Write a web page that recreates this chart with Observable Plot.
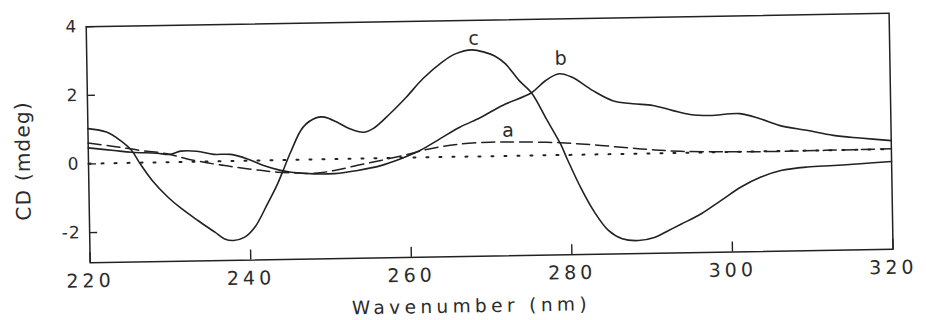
<!DOCTYPE html>
<html>
<head>
<meta charset="utf-8">
<script src="https://cdn.jsdelivr.net/npm/d3@7"></script>
<script src="https://cdn.jsdelivr.net/npm/@observablehq/plot@0.6"></script>
<style>
  html, body { margin: 0; padding: 0; background: #fff; }
  #chart svg { display: block; transform: rotate(-0.96deg); transform-origin: 50% 50%; }
  #chart g[aria-label="x-axis tick label"] text { letter-spacing: 4px; }
  #chart g[aria-label="y-axis tick label"] text { letter-spacing: 1px; }
  #chart .xtitle text { letter-spacing: 4.4px; }
  #chart .ytitle text { letter-spacing: 1.2px; }
</style>
</head>
<body>
<div id="chart"></div>
<script>
// CD spectra, wavelength (nm) vs ellipticity (mdeg)
const xTicks = [220, 240, 260, 280, 300, 320];
const yTicks = [-2, 0, 2, 4];

// curve a (dashed)
const aWavelength = [220.0, 223.2, 226.5, 229.8, 232.3, 235.6, 238.5, 241.4, 243.5, 248.1, 250.6, 253.5, 256.4, 259.7, 262.6, 265.9, 270.1, 273.8, 278.8, 283.8, 288.8, 293.7, 300.0, 306.2, 313.0, 320.0];
const aCD = [0.61, 0.50, 0.37, 0.26, 0.10, -0.06, -0.17, -0.27, -0.33, -0.38, -0.31, -0.17, -0.04, 0.12, 0.28, 0.39, 0.44, 0.43, 0.39, 0.29, 0.17, 0.08, 0.04, 0.03, 0.04, 0.05];

// curve b (solid)
const bWavelength = [220.0, 223.2, 225.4, 228.5, 230.2, 231.5, 233.5, 235.6, 237.7, 239.8, 241.8, 243.9, 245.2, 248.1, 250.6, 253.5, 256.4, 258.9, 261.3, 263.8, 266.3, 268.8, 270.1, 272.1, 275.3, 277.1, 278.8, 280.4, 282.9, 285.4, 287.9, 290.4, 292.9, 295.0, 297.5, 301.2, 303.7, 306.2, 309.5, 312.8, 316.1, 320.0];
const bCD = [0.47, 0.38, 0.32, 0.28, 0.24, 0.33, 0.32, 0.22, 0.21, 0.07, -0.13, -0.28, -0.34, -0.40, -0.40, -0.32, -0.19, 0.00, 0.23, 0.56, 0.89, 1.15, 1.31, 1.55, 1.86, 2.21, 2.40, 2.29, 1.90, 1.59, 1.49, 1.43, 1.27, 1.15, 1.11, 1.15, 0.99, 0.78, 0.63, 0.47, 0.38, 0.29];

// curve c (solid)
const cWavelength = [220.0, 222.3, 224.0, 225.4, 226.3, 227.9, 229.8, 231.5, 233.5, 235.6, 236.8, 237.9, 239.3, 240.6, 242.2, 243.5, 244.3, 245.2, 246.8, 248.5, 249.5, 251.0, 252.6, 254.3, 255.5, 257.6, 259.7, 261.8, 264.2, 265.9, 268.0, 269.6, 270.8, 272.1, 273.8, 275.3, 277.1, 278.8, 279.6, 281.3, 282.9, 284.6, 286.3, 288.3, 290.4, 292.1, 293.7, 296.2, 298.7, 301.2, 303.7, 306.2, 309.5, 312.8, 316.1, 320.0];
const cCD = [1.03, 0.92, 0.67, 0.37, 0.03, -0.51, -1.00, -1.35, -1.70, -2.05, -2.25, -2.30, -2.21, -1.92, -1.25, -0.67, -0.24, 0.25, 0.97, 1.24, 1.25, 1.10, 0.90, 0.79, 0.89, 1.31, 1.79, 2.32, 2.79, 3.03, 3.14, 3.06, 2.95, 2.72, 2.22, 1.86, 1.09, 0.36, -0.08, -0.96, -1.65, -2.19, -2.44, -2.50, -2.41, -2.22, -2.04, -1.75, -1.37, -0.99, -0.71, -0.53, -0.44, -0.41, -0.37, -0.32];

// baseline (dotted)
const baseWavelength = [220, 240, 260, 280, 300, 320];
const baseCD = [0.01, 0.02, 0.03, 0.03, 0.04, 0.04];

// curve labels
const labelNames = ["a", "b", "c"];
const labelWavelength = [272.3, 279.0, 268.2];
const labelCD = [0.77, 2.84, 3.47];

const rows = (xs, ys) => xs.map((x, i) => ({x, y: ys[i]}));
const seriesA = rows(aWavelength, aCD);
const seriesB = rows(bWavelength, bCD);
const seriesC = rows(cWavelength, cCD);
const baseline = rows(baseWavelength, baseCD);
const labels = labelNames.map((name, i) => ({name, x: labelWavelength[i], y: labelCD[i]}));

const ink = "#222";
const text = "#2b2b2b";

const chart = Plot.plot({
  width: 926,
  height: 320,
  marginLeft: 88,
  marginRight: 35,
  marginTop: 20,
  marginBottom: 64,
  x: {domain: [220, 320]},
  y: {domain: [-2.88, 4]},
  style: {fontFamily: "DejaVu Sans", color: text, background: "#fff", overflow: "visible"},
  marks: [
    Plot.frame({stroke: ink, strokeWidth: 1.5}),
    Plot.axisX({ticks: xTicks, tickSize: 0, tickPadding: 11, fontSize: 19, label: null, tickFormat: d => String(d)}),
    Plot.axisY({ticks: yTicks, tickSize: 0, tickPadding: 9, fontSize: 17, label: null, tickFormat: d => d < 0 ? "-" + Math.abs(d) : String(d)}),
    Plot.tickX(xTicks, {x: d => d, insetTop: 226, stroke: ink, strokeWidth: 1.4}),
    Plot.tickY(yTicks, {y: d => d, insetRight: 795, stroke: ink, strokeWidth: 1.4}),
    Plot.line(baseline, {x: "x", y: "y", stroke: ink, strokeWidth: 2, strokeDasharray: "2,11"}),
    Plot.line(seriesA, {x: "x", y: "y", stroke: ink, strokeWidth: 1.5, strokeDasharray: "13,6", curve: "catmull-rom"}),
    Plot.line(seriesB, {x: "x", y: "y", stroke: ink, strokeWidth: 1.6, curve: "catmull-rom"}),
    Plot.line(seriesC, {x: "x", y: "y", stroke: ink, strokeWidth: 1.6, curve: "catmull-rom"}),
    Plot.text(labels, {x: "x", y: "y", text: "name", fontSize: 19, fill: text}),
    Plot.text(["Wavenumber (nm)"], {frameAnchor: "bottom", textAnchor: "middle", lineAnchor: "middle", dx: -21, dy: 50, fontSize: 18.5, fill: text, className: "xtitle"}),
    Plot.text(["CD (mdeg)"], {frameAnchor: "left", textAnchor: "middle", lineAnchor: "middle", dx: -65, dy: 15, rotate: -90, fontSize: 20, fill: text, className: "ytitle"})
  ]
});

document.getElementById("chart").append(chart);
</script>
</body>
</html>
